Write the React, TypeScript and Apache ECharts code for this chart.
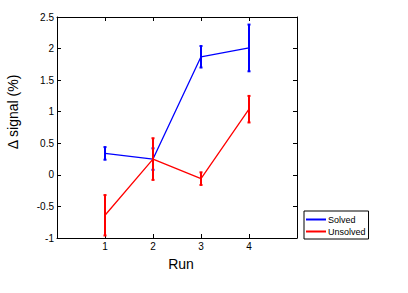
import React, { useEffect, useRef } from 'react';
import * as echarts from 'echarts';

const runs = [1, 2, 3, 4];
const solvedMean = [0.34, 0.25, 1.87, 2.01];
const solvedErr = [0.1, 0.17, 0.17, 0.37];
const unsolvedMean = [-0.64, 0.25, -0.06, 1.04];
const unsolvedErr = [0.32, 0.33, 0.1, 0.21];
const xTickLabels = ['1', '2', '3', '4'];

const BLUE = '#0000ff';
const RED = '#ff0000';
const FONT = 'Liberation Sans, Arial, Helvetica, sans-serif';

function errSeries(mean: number[], err: number[], color: string) {
  return {
    type: 'custom',
    xAxisIndex: 0,
    yAxisIndex: 0,
    silent: true,
    z: 3,
    data: runs.map((r, i) => [r, mean[i] - err[i], mean[i] + err[i]]),
    encode: { x: 0, y: [1, 2] },
    renderItem: (params: any, api: any) => {
      const x = api.value(0);
      const lo = api.value(1);
      const hi = api.value(2);
      const p1 = api.coord([x, hi]);
      const p2 = api.coord([x, lo]);
      const cw = 1.5;
      const st = { stroke: color, lineWidth: 2 };
      return {
        type: 'group',
        children: [
          { type: 'line', shape: { x1: p1[0], y1: p1[1], x2: p2[0], y2: p2[1] }, style: st },
          { type: 'line', shape: { x1: p1[0] - cw, y1: p1[1], x2: p1[0] + cw, y2: p1[1] }, style: st },
          { type: 'line', shape: { x1: p2[0] - cw, y1: p2[1], x2: p2[0] + cw, y2: p2[1] }, style: st },
        ],
      };
    },
  };
}

export default function App() {
  const ref = useRef<HTMLDivElement>(null);
  useEffect(() => {
    if (!ref.current) return;
    const chart = echarts.init(ref.current, undefined, { renderer: 'svg' });
    const axisCommon = {
      type: 'value',
      axisLine: { show: true, onZero: false, lineStyle: { color: '#000', width: 1 } },
      axisTick: { show: true, inside: true, length: 4, lineStyle: { color: '#000' } },
      splitLine: { show: false },
    };
    chart.setOption({
      animation: false,
      backgroundColor: '#fff',
      textStyle: { fontFamily: FONT },
      grid: { left: 57, top: 17, right: 111, bottom: 55, show: false },
      xAxis: [
        {
          ...axisCommon,
          position: 'bottom',
          min: 0,
          max: 5,
          interval: 1,
          axisLabel: {
            color: '#000',
            fontSize: 10,
            fontFamily: FONT,
            margin: 3,
            formatter: (v: number) => (v >= 1 && v <= 4 ? xTickLabels[v - 1] : ''),
          },
        },
        {
          ...axisCommon,
          position: 'top',
          min: 0,
          max: 5,
          interval: 1,
          axisLabel: { show: false },
        },
      ],
      yAxis: [
        {
          ...axisCommon,
          position: 'left',
          min: -1,
          max: 2.5,
          interval: 0.5,
          axisLabel: { color: '#000', fontSize: 10, fontFamily: FONT, margin: 3 },
        },
        {
          ...axisCommon,
          position: 'right',
          min: -1,
          max: 2.5,
          interval: 0.5,
          axisLabel: { show: false },
        },
      ],
      legend: {
        orient: 'vertical',
        left: 304,
        top: 211,
        padding: [4, 3, 3, 2],
        itemGap: 3,
        itemWidth: 20,
        itemHeight: 2,
        icon: 'rect',
        borderColor: '#000',
        borderWidth: 1,
        backgroundColor: '#fff',
        textStyle: { fontSize: 9, fontFamily: FONT, color: '#000', padding: [0, 0, 0, -3] },
        data: ['Solved', 'Unsolved'],
      },
      graphic: [
        {
          type: 'text',
          x: 13,
          y: 112,
          rotation: Math.PI / 2,
          style: {
            text: 'Δ signal (%)',
            fontSize: 14,
            fontFamily: FONT,
            fill: '#000',
            align: 'center',
            verticalAlign: 'middle',
          },
        },
        {
          type: 'text',
          x: 181,
          y: 264,
          style: {
            text: 'Run',
            fontSize: 14,
            fontFamily: FONT,
            fill: '#000',
            align: 'center',
            verticalAlign: 'middle',
          },
        },
      ],
      series: [
        {
          name: 'Solved',
          type: 'line',
          data: runs.map((r, i) => [r, solvedMean[i]]),
          symbol: 'none',
          itemStyle: { color: BLUE },
          lineStyle: { color: BLUE, width: 1.3 },
          z: 2,
        },
        {
          name: 'Unsolved',
          type: 'line',
          data: runs.map((r, i) => [r, unsolvedMean[i]]),
          symbol: 'none',
          itemStyle: { color: RED },
          lineStyle: { color: RED, width: 1.3 },
          z: 2,
        },
        errSeries(solvedMean, solvedErr, BLUE),
        errSeries(unsolvedMean, unsolvedErr, RED),
      ],
    });
    return () => chart.dispose();
  }, []);
  return (
    <div
      ref={ref}
      style={{ position: 'fixed', left: 0, top: 0, width: 408, height: 293, background: '#fff' }}
    />
  );
}
